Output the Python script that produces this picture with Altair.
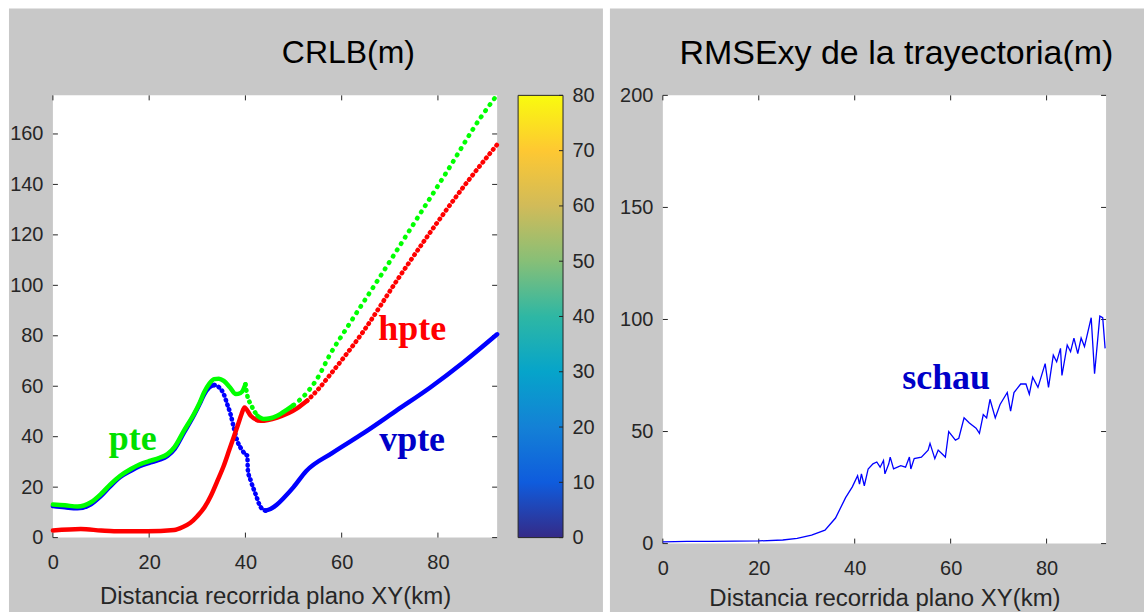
import altair as alt
import pandas as pd

GRAY = "#c8c8c8"
AXC = "#262626"
SANS = "Liberation Sans"
SERIF = "Liberation Serif"

# ---------------- data: left panel (CRLB, m) ----------------
blue_a_x = [0, 2.5, 5.1, 7.9, 10, 12, 14, 16.2, 18, 20.3, 22, 23.8, 25.3, 27.2, 29.3, 30.5, 31.4, 32.5, 33.5]
blue_a_y = [12.5, 12.0, 11.6, 13.2, 16.5, 20.5, 24.0, 26.5, 28.3, 29.8, 30.8, 32.4, 35.2, 41.5, 48.5, 53.0, 56.7, 59.6, 60.5]
blue_b_x = [33.5, 34.5, 35.5, 36.2, 36.9, 37.6, 38.3, 39.2, 40.0, 40.4, 40.5, 41.1, 42.1, 43.2, 44.2]
blue_b_y = [60.5, 59.6, 56.9, 53.0, 49.0, 43.5, 38.4, 35.0, 33.0, 32.4, 26.8, 22.6, 17.3, 12.0, 10.7]
blue_c_x = [44.2, 45.2, 46.5, 48.0, 50.0, 52.6, 58.0, 64.6, 71.5, 78.4, 85.3, 92.3]
blue_c_y = [10.7, 11.3, 13.0, 15.8, 20.0, 26.3, 33.5, 41.5, 50.5, 59.5, 69.5, 80.6]

red_a_x = [0, 5.8, 10, 12.7, 19.6, 25.2, 27.0, 28.5, 30.0, 31.5, 32.8, 34.2, 35.5, 36.6, 37.6, 38.5, 39.2, 39.8,
           41.1, 43.2, 46.6, 50.8, 52.8]
red_a_y = [2.8, 3.4, 2.8, 2.5, 2.5, 3.0, 4.2, 5.8, 8.5, 12.0, 16.5, 22.6, 28.5, 34.5, 40.0, 45.0, 49.0, 51.6,
           48.3, 46.3, 47.6, 51.3, 54.2]
red_b_x = [52.8, 55.0, 57.7, 64.6, 71.5, 78.4, 85.3, 92.3]
red_b_y = [54.2, 58.5, 64.8, 82.0, 102.0, 121.0, 139.0, 155.8]

green_a_x = [0, 2.5, 5.1, 7.9, 10, 12, 14, 16.2, 18, 20.3, 22, 23.8, 25.3, 27.2, 29.3, 30.5, 31.4, 32.5, 33.5, 34.5, 35.5, 36.8, 38.0, 39.0, 39.6, 40.0]
green_a_y = [13.1, 12.8, 12.3, 14.0, 17.3, 21.2, 24.5, 27.2, 29.0, 30.5, 31.5, 33.1, 36.0, 42.3, 49.0, 53.5, 57.5, 61.0, 62.8, 63.0, 62.1, 59.5, 56.9, 57.3, 58.8, 60.8]
green_b_x = [40.0, 40.4, 41.1, 41.8, 42.5]
green_b_y = [60.8, 56.2, 52.9, 50.3, 48.3]
green_c_x = [42.5, 43.8, 45.2, 46.6, 48.5, 50.0]
green_c_y = [48.3, 47.0, 47.3, 48.3, 50.5, 52.5]
green_d_x = [50.0, 52.8, 54.9, 57.7, 61.1, 68.0, 75.0, 81.9, 88.8, 92.3]
green_d_y = [52.5, 57.5, 63.0, 73.0, 83.2, 103.5, 124.5, 145.2, 166.3, 175.5]

left_labels = ["pte", "hpte", "vpte"]
left_labels_x = [11.6, 67.6, 67.8]
left_labels_y = [34.6, 78.5, 34.4]

left_x_ticks = [0, 20, 40, 60, 80]
left_y_ticks = [0, 20, 40, 60, 80, 100, 120, 140, 160]
cbar_ticks = [0, 10, 20, 30, 40, 50, 60, 70, 80]
parula = ["#352A87", "#0F5CDD", "#1481D6", "#06A4CA", "#2EB7A4",
          "#87BF77", "#D1BB59", "#FEC832", "#F9FB0E"]

# ---------------- data: right panel (RMSExy, m) ----------------
schau_x = [0, 5, 10, 15, 20, 25, 28, 31, 33.8, 36, 38.1, 39.5, 40.6, 41.0, 41.4, 42.0, 42.8, 43.8,
           44.6, 45.3, 46.0, 46.3, 47.1, 47.4, 48.1, 49.6, 50.6, 51.4, 51.7, 52.4, 53.9, 55.3,
           55.7, 56.7, 57.4, 58.9, 59.6, 61.0, 61.7, 62.8, 63.9, 65.3, 66.0, 66.8, 67.5, 68.2,
           69.3, 70.3, 71.8, 72.5, 73.2, 74.6, 75.7, 76.4, 77.1, 78.2, 79.7, 80.4, 81.4, 82.1,
           82.9, 83.2, 84.3, 85.0, 85.7, 86.5, 87.2, 87.9, 89.3, 90.0, 91.1, 91.7, 92.2]
schau_y = [0.8, 1.0, 1.0, 1.1, 1.2, 1.6, 2.3, 3.8, 6.0, 11.4, 20.5, 25.3, 30.3, 26.5, 31.1, 25.8,
           33.3, 35.6, 36.4, 34.1, 37.1, 31.1, 35.6, 38.6, 33.3, 34.8, 34.1, 38.6, 33.3, 37.9,
           38.6, 41.7, 44.7, 37.9, 41.7, 38.6, 50.0, 46.2, 47.0, 56.1, 53.8, 51.5, 49.2, 57.6,
           56.1, 64.4, 56.1, 62.1, 67.4, 59.1, 67.4, 71.2, 71.2, 66.7, 74.2, 69.7, 80.3, 69.7,
           84.1, 81.1, 87.1, 75.0, 88.6, 85.6, 91.7, 84.8, 91.7, 87.9, 100.8, 75.8, 101.5, 100.8, 87.1]
right_label = ["schau"]
right_label_x = [49.9]
right_label_y = [69.0]

right_x_ticks = [0, 20, 40, 60, 80]
right_y_ticks = [0, 50, 100, 150, 200]

# ---------------- layout ----------------
LW, LH = 445, 443
RW, RH = 444, 449


def xy(xs, ys):
    return pd.DataFrame({"x": xs, "y": ys})


one = pd.DataFrame({"a": [0]})


def axis_x(values, tpad):
    return alt.Axis(values=values, ticks=False, domain=False, grid=False, format="d",
                    labelFont=SANS, labelFontSize=20, labelColor=AXC, labelPadding=15,
                    labelFlush=False, labelOverlap=False,
                    title="Distancia recorrida plano XY(km)", titleFont=SANS, titleFontSize=24,
                    titleFontWeight="normal", titleColor=AXC, titlePadding=tpad, zindex=1)


def axis_y(values):
    return alt.Axis(values=values, ticks=False, domain=False, grid=False, format="d",
                    labelFont=SANS, labelFontSize=20, labelColor=AXC, labelPadding=10,
                    labelFlush=False, labelOverlap=False, title=None, zindex=1)


def panel_layers(xenc, yenc, w, h, xt, yt, bg):
    gray = alt.Chart(one).mark_rect(color=GRAY).encode(
        x=alt.value(bg[0]), x2=alt.value(bg[1]), y=alt.value(bg[2]), y2=alt.value(bg[3]))
    white = alt.Chart(one).mark_rect(color="white").encode(
        x=alt.value(0), x2=alt.value(w), y=alt.value(0), y2=alt.value(h))
    ydf = pd.DataFrame({"y": yt})
    xdf = pd.DataFrame({"x": xt})
    t1 = alt.Chart(ydf).mark_rule(color=AXC, strokeWidth=1).encode(y=yenc, x=alt.value(0), x2=alt.value(5))
    t2 = alt.Chart(ydf).mark_rule(color=AXC, strokeWidth=1).encode(y=yenc, x=alt.value(w - 5), x2=alt.value(w))
    t3 = alt.Chart(xdf).mark_rule(color=AXC, strokeWidth=1).encode(x=xenc, y=alt.value(h), y2=alt.value(h - 5))
    t4 = alt.Chart(xdf).mark_rule(color=AXC, strokeWidth=1).encode(x=xenc, y=alt.value(0), y2=alt.value(5))
    return [gray, white, t1, t2, t3, t4]


# ---------------- left chart ----------------
LX = alt.X("x:Q", scale=alt.Scale(domain=[0, 92.3], nice=False, zero=False), axis=axis_x(left_x_ticks, 12))
LY = alt.Y("y:Q", scale=alt.Scale(domain=[0, 175.3], nice=False, zero=False), axis=axis_y(left_y_ticks))


def solid(xs, ys, color):
    return alt.Chart(xy(xs, ys)).mark_line(color=color, strokeWidth=4.5, strokeCap="round",
                                           strokeJoin="round", interpolate="monotone").encode(x=LX, y=LY)


def dotted(xs, ys, color, gap):
    return alt.Chart(xy(xs, ys)).mark_line(color=color, strokeWidth=4.6, strokeCap="round",
                                           strokeDash=[0.5, gap], interpolate="monotone").encode(x=LX, y=LY)


left_layers = panel_layers(LX, LY, LW, LH, left_x_ticks, left_y_ticks, (-44, 551, -87, 518))
left_layers += [
    solid(blue_a_x, blue_a_y, "#0000ff"),
    dotted(blue_b_x, blue_b_y, "#0000ff", 4.5),
    solid(blue_c_x, blue_c_y, "#0000ff"),
    solid(red_a_x, red_a_y, "#ff0000"),
    dotted(red_b_x, red_b_y, "#ff0000", 5.0),
    solid(green_a_x, green_a_y, "#00ff00"),
    dotted(green_b_x, green_b_y, "#00ff00", 5.5),
    solid(green_c_x, green_c_y, "#00ff00"),
    dotted(green_d_x, green_d_y, "#00ff00", 7.0),
]
label_colors = ["#00e000", "#ff0000", "#0000c8"]
for i, lab in enumerate(left_labels):
    d = pd.DataFrame({"x": [left_labels_x[i]], "y": [left_labels_y[i]], "t": [lab]})
    left_layers.append(
        alt.Chart(d).mark_text(font=SERIF, fontWeight="bold", fontSize=36, align="left",
                               baseline="alphabetic", color=label_colors[i]).encode(x=LX, y=LY, text="t:N"))
left_layers.append(
    alt.Chart(one).mark_text(font=SANS, fontSize=32, align="center", baseline="alphabetic", color="#000000")
    .encode(x=alt.value(296), y=alt.value(-32), text=alt.value("CRLB(m)")))

# colorbar (own vertical scale 0..80, axis on its right side)
CY = alt.Y("lo:Q", scale=alt.Scale(domain=[cbar_ticks[0], cbar_ticks[-1]], nice=False, zero=False),
           axis=alt.Axis(orient="right", offset=66, values=cbar_ticks, ticks=False, domain=False,
                         grid=False, format="d", labelFont=SANS, labelFontSize=20, labelColor=AXC,
                         labelPadding=9, labelFlush=False, labelOverlap=False, title=None, zindex=1))
grad = alt.LinearGradient(
    gradient="linear",
    stops=[alt.GradientStop(color=c, offset=v / cbar_ticks[-1]) for c, v in zip(parula, cbar_ticks)],
    x1=0, x2=0, y1=1, y2=0)
cbar_rect = alt.Chart(pd.DataFrame({"lo": [cbar_ticks[0]], "hi": [cbar_ticks[-1]]})).mark_rect(
    fill=grad, stroke=AXC, strokeWidth=1).encode(x=alt.value(466), x2=alt.value(511), y=CY, y2="hi:Q")
cbar_tk = alt.Chart(pd.DataFrame({"lo": cbar_ticks})).mark_rule(color=AXC, strokeWidth=1).encode(
    y=CY, x=alt.value(507), x2=alt.value(511))
cbar = alt.layer(cbar_rect, cbar_tk)

left = alt.layer(alt.layer(*left_layers), cbar).resolve_scale(y="independent").properties(width=LW, height=LH)

# ---------------- right chart ----------------
RX = alt.X("x:Q", scale=alt.Scale(domain=[0, 92.4], nice=False, zero=False), axis=axis_x(right_x_ticks, 8))
RY = alt.Y("y:Q", scale=alt.Scale(domain=[0, 200], nice=False, zero=False), axis=axis_y(right_y_ticks))

right_layers = panel_layers(RX, RY, RW, RH, right_x_ticks, right_y_ticks, (-53, 482, -87, 518))
right_layers.append(
    alt.Chart(xy(schau_x, schau_y)).mark_line(color="#0000ff", strokeWidth=1.3).encode(x=RX, y=RY))
right_layers.append(
    alt.Chart(pd.DataFrame({"x": right_label_x, "y": right_label_y, "t": right_label}))
    .mark_text(font=SERIF, fontWeight="bold", fontSize=36, align="left", baseline="alphabetic",
               color="#0000c8").encode(x=RX, y=RY, text="t:N"))
right_layers.append(
    alt.Chart(one).mark_text(font=SANS, fontSize=34, align="center", baseline="alphabetic", color="#000000")
    .encode(x=alt.value(234), y=alt.value(-31), text=alt.value("RMSExy de la trayectoria(m)")))

right = alt.layer(*right_layers).properties(width=RW, height=RH)

chart = (
    alt.hconcat(left, right, spacing=166, bounds="flush")
    .properties(padding={"left": 8, "top": 7, "right": 0, "bottom": 0}, background="white")
    .configure_view(stroke=AXC, strokeWidth=1)
)

chart.save("out.html", embed_options={"renderer": "svg", "actions": False})
